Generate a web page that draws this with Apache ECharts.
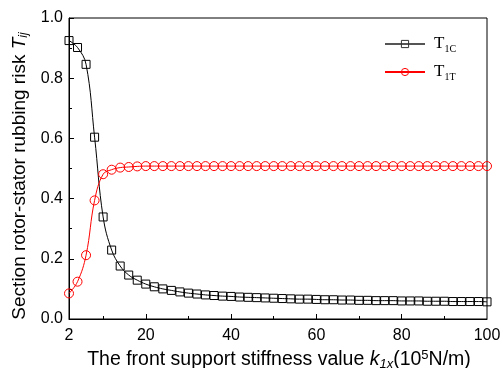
<!DOCTYPE html>
<html>
<head>
<meta charset="utf-8">
<script src="https://cdn.jsdelivr.net/npm/echarts@6/dist/echarts.min.js"></script>
<style>
  html, body { margin: 0; padding: 0; background: #fff; }
  #chart { width: 503px; height: 368px; }
</style>
</head>
<body>
<div id="chart"></div>
<script>
// stiffness k1x (10^5 N/m)
var stiffness = [2, 4, 6, 8, 10, 12, 14, 16, 18, 20, 22, 24, 26, 28, 30, 32, 34, 36, 38, 40,
  42, 44, 46, 48, 50, 52, 54, 56, 58, 60, 62, 64, 66, 68, 70, 72, 74, 76, 78, 80,
  82, 84, 86, 88, 90, 92, 94, 96, 98, 100];
var t1c = [0.925, 0.902, 0.846, 0.604, 0.339, 0.229, 0.176, 0.146, 0.129, 0.116,
  0.107, 0.100, 0.095, 0.090, 0.086, 0.083, 0.080, 0.078, 0.076, 0.075,
  0.073, 0.072, 0.071, 0.070, 0.069, 0.068, 0.067, 0.066, 0.066, 0.065,
  0.064, 0.064, 0.063, 0.063, 0.062, 0.062, 0.061, 0.061, 0.061, 0.060,
  0.060, 0.060, 0.059, 0.059, 0.059, 0.058, 0.058, 0.058, 0.058, 0.057];
var t1t = [0.085, 0.124, 0.212, 0.394, 0.481, 0.496, 0.503, 0.505, 0.507, 0.508,
  0.508, 0.508, 0.508, 0.508, 0.508, 0.508, 0.508, 0.508, 0.508, 0.508,
  0.508, 0.508, 0.508, 0.508, 0.508, 0.508, 0.508, 0.508, 0.508, 0.508,
  0.508, 0.508, 0.508, 0.508, 0.508, 0.508, 0.508, 0.508, 0.508, 0.508,
  0.508, 0.508, 0.508, 0.508, 0.508, 0.508, 0.508, 0.508, 0.508, 0.508];
var xLabels = [2, 20, 40, 60, 80, 100];
var xMajorTicks = [20, 40, 60, 80];
var xMinorTicks = [10, 30, 50, 70, 90];

var chart = echarts.init(document.getElementById('chart'));

function pairs(values) {
  return values.map(function (v, i) { return [stiffness[i], v]; });
}

var sans = '"Liberation Sans", Arial, sans-serif';
var serif = '"Liberation Serif", "Times New Roman", serif';

var option = {
  backgroundColor: '#fff',
  animation: false,
  grid: {
    left: 69, right: 16, top: 18, bottom: 49,
    outerBoundsMode: 'none',
    show: true, borderColor: '#000', borderWidth: 1, backgroundColor: '#fff'
  },
  legend: {
    orient: 'vertical',
    left: 384, top: 26, padding: 0,
    itemWidth: 40, itemHeight: 9, itemGap: 0,
    formatter: function (name) {
      return '{t|T}{s|' + name.slice(1) + '}';
    },
    textStyle: {
      rich: {
        t: { fontFamily: serif, fontSize: 17, lineHeight: 20, color: '#000', padding: [0, 0, 0, 4] },
        s: { fontFamily: serif, fontSize: 10, lineHeight: 10, color: '#000', verticalAlign: 'bottom', padding: [18, 0, 0, 0] }
      }
    },
    data: [
      { name: 'T1C', itemStyle: { color: 'transparent', borderColor: '#333', borderWidth: 1 }, lineStyle: { color: '#555' } },
      { name: 'T1T', itemStyle: { color: 'transparent', borderColor: '#f00', borderWidth: 1 } }
    ]
  },
  xAxis: [{
    type: 'value', min: 2, max: 100,
    axisLine: { show: true, lineStyle: { color: '#000' } },
    splitLine: { show: false },
    axisTick: { show: true, inside: true, length: 5, customValues: xMajorTicks, lineStyle: { color: '#000' } },
    axisLabel: { customValues: xLabels, color: '#000', fontFamily: sans, fontSize: 16, margin: 9 },
    name: '{a|The front support stiffness value }{i|k}{is|1x}{a|(10}{sup|5}{a|N/m)}',
    nameLocation: 'middle', nameGap: 25,
    nameTextStyle: {
      padding: [0, 0, 0, 2],
      rich: {
        a: { fontFamily: sans, fontSize: 19.5, color: '#000' },
        i: { fontFamily: sans, fontSize: 19.5, fontStyle: 'italic', color: '#000' },
        is: { fontFamily: sans, fontSize: 13, fontStyle: 'italic', color: '#000', verticalAlign: 'bottom', padding: [9, 0, 0, 0] },
        sup: { fontFamily: sans, fontSize: 13, color: '#000', verticalAlign: 'top', padding: [0, 0, 9, 0] }
      }
    }
  }, {
    type: 'value', min: 2, max: 100, position: 'bottom',
    axisLine: { show: false }, splitLine: { show: false },
    axisLabel: { show: false },
    axisTick: { show: true, inside: true, length: 3, customValues: xMinorTicks, lineStyle: { color: '#000' } }
  }],
  yAxis: {
    type: 'value', min: 0, max: 1.0, interval: 0.2,
    axisLine: { show: true, lineStyle: { color: '#000' } },
    splitLine: { show: false },
    axisTick: { show: true, inside: true, length: 5, lineStyle: { color: '#000' } },
    minorTick: { show: true, splitNumber: 2, length: 3, lineStyle: { color: '#000' } },
    axisLabel: {
      color: '#000', fontFamily: sans, fontSize: 16, margin: 6,
      formatter: function (v) { return v.toFixed(1); }
    },
    name: '{a|Section rotor-stator rubbing risk }{i|T}{is|ij}',
    nameLocation: 'middle', nameGap: 39, nameRotate: 90,
    nameTextStyle: {
      padding: [0, 15, 0, 0],
      rich: {
        a: { fontFamily: sans, fontSize: 19, color: '#000' },
        i: { fontFamily: sans, fontSize: 19, fontStyle: 'italic', color: '#000' },
        is: { fontFamily: sans, fontSize: 12, fontStyle: 'italic', color: '#000', verticalAlign: 'bottom', padding: [9, 0, 0, 0] }
      }
    }
  },
  series: [{
    name: 'T1C', type: 'line', smooth: 0.4,
    data: pairs(t1c),
    symbol: 'rect', symbolSize: 8,
    lineStyle: { color: '#000', width: 1 },
    itemStyle: { color: 'transparent', borderColor: '#000', borderWidth: 1 }
  }, {
    name: 'T1T', type: 'line', smooth: 0.4,
    data: pairs(t1t),
    symbol: 'circle', symbolSize: 9,
    lineStyle: { color: '#f00', width: 1 },
    itemStyle: { color: 'transparent', borderColor: '#f00', borderWidth: 1 }
  }]
};

chart.setOption(option);
</script>
</body>
</html>
